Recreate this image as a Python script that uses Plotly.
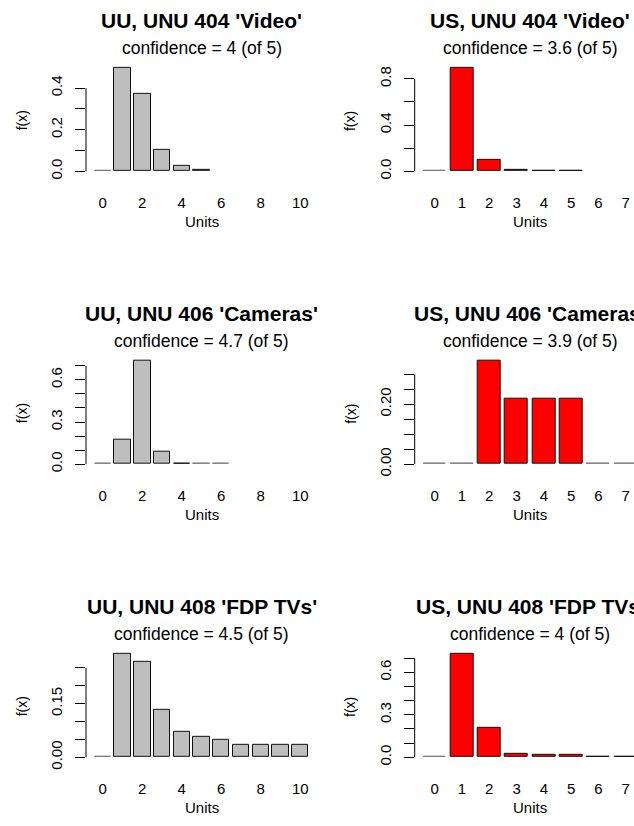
import plotly.graph_objects as go

# bar positions (units) for the two columns of panels
units_left = list(range(11))
units_right = list(range(8))

# f(x) values; None = no bar drawn
uu_video = [0.0, 0.497, 0.375, 0.105, 0.025, 0.006, None, None, None, None, None]
us_video = [0.0, 0.894, 0.102, 0.012, 0.004, 0.003, None, None]
uu_cameras = [0.0, 0.174, 0.736, 0.089, 0.006, 0.0, 0.0, None, None, None, None]
us_cameras = [0.0, 0.0, 0.345, 0.219, 0.219, 0.219, 0.0, 0.0]
uu_tvs = [0.0, 0.289, 0.266, 0.132, 0.070, 0.057, 0.048, 0.034, 0.034, 0.034, 0.034]
us_tvs = [0.0, 0.730, 0.207, 0.026, 0.016, 0.016, 0.004, 0.004]

titles = ["UU, UNU 404 'Video'", "US, UNU 404 'Video'",
          "UU, UNU 406 'Cameras'", "US, UNU 406 'Cameras'",
          "UU, UNU 408 'FDP TVs'", "US, UNU 408 'FDP TVs'"]
confidence = ["4", "3.6", "4.7", "3.9", "4.5", "4"]

# y tick marks (all) and labelled ticks per panel
y_ticks_all = [[0, 0.1, 0.2, 0.3, 0.4], [0, 0.2, 0.4, 0.6, 0.8],
               [0, 0.1, 0.2, 0.3, 0.4, 0.5, 0.6, 0.7], [0, 0.05, 0.1, 0.15, 0.2, 0.25, 0.3],
               [0, 0.05, 0.1, 0.15, 0.2, 0.25], [0, 0.1, 0.2, 0.3, 0.4, 0.5, 0.6, 0.7]]
y_ticks_lab = [[0, 0.2, 0.4], [0, 0.4, 0.8], [0, 0.3, 0.6], [0, 0.2], [0, 0.15], [0, 0.3, 0.6]]
y_fmt = [".1f", ".1f", ".1f", ".2f", ".2f", ".1f"]

FONT = "Liberation Sans, Arial, Helvetica, sans-serif"
W, H = 634, 826
ROW_ZERO = [173, 468.7, 764.7]   # pixel row of f(x)=0 in each row of panels
COL_AXIS = [86, 414.7]           # pixel column of the y axis
PLOT_W, PLOT_H = 231, 112.7      # R plot region size

panels = [
    (0, 0, units_left, uu_video, "#bebebe"),
    (0, 1, units_right, us_video, "#ff0000"),
    (1, 0, units_left, uu_cameras, "#bebebe"),
    (1, 1, units_right, us_cameras, "#ff0000"),
    (2, 0, units_left, uu_tvs, "#bebebe"),
    (2, 1, units_right, us_tvs, "#ff0000"),
]


def px_x(p):
    return p / W


def px_y(p):
    return 1 - p / H


fig = go.Figure()
annotations = []
shapes = []
layout = {}

for k, (row, col, units, vals, colour) in enumerate(panels):
    idx = k + 1
    sfx = "" if idx == 1 else str(idx)
    z = ROW_ZERO[row]
    ax_x = COL_AXIS[col]

    # zero bars still show as a flat outline, like R's barplot
    drawn = [None if v is None else max(v, 1e-9) for v in vals]
    edge = ["#777777" if v == 0 else "#111111" for v in vals]
    fig.add_trace(go.Bar(
        x=units, y=drawn, width=1 / 1.2,
        marker=dict(color=colour, line=dict(color=edge, width=1)),
        xaxis="x" + sfx, yaxis="y" + sfx, showlegend=False,
        hoverinfo="skip",
    ))

    # x range mimicking barplot(space=0.2) with 4% extension
    n = len(units)
    span = 1.2 * n - 0.2
    lo = (0.2 - 0.04 * span - 0.7) / 1.2
    hi = (1.2 * n + 0.04 * span - 0.7) / 1.2
    ppu = PLOT_W / (hi - lo)
    right_px = min(ax_x + PLOT_W, W)
    hi_vis = lo + (right_px - ax_x) / ppu

    ymax = max(v for v in vals if v is not None)
    bottom_px = z + 0.04 / 1.08 * PLOT_H
    top_px = z - 1.04 / 1.08 * PLOT_H

    layout["xaxis" + sfx] = dict(
        domain=[px_x(ax_x), px_x(right_px)], range=[lo, hi_vis],
        anchor="y" + sfx, tickmode="linear", tick0=0, dtick=2 if col == 0 else 1,
        ticks="", showline=False, showgrid=False, zeroline=False, tickangle=0,
        ticklabelstandoff=17, tickfont=dict(size=15, color="black", family=FONT),
    )
    layout["yaxis" + sfx] = dict(
        domain=[px_y(bottom_px), px_y(top_px)], range=[-0.04 * ymax, 1.04 * ymax],
        anchor="x" + sfx, tickmode="array", tickvals=y_ticks_lab[k], tickformat=y_fmt[k],
        ticks="outside", ticklen=10, tickwidth=1, tickcolor="black", tickangle=-90,
        minor=dict(tickmode="array", tickvals=y_ticks_all[k], ticks="outside",
                   ticklen=10, tickwidth=1, tickcolor="black"),
        showline=False, showgrid=False, zeroline=False, ticklabelstandoff=7,
        tickfont=dict(size=15, color="black", family=FONT),
    )

    shapes.append(dict(type="line", xref=f"x{sfx} domain", yref="y" + sfx,
                       x0=0, x1=0, y0=0, y1=y_ticks_all[k][-1],
                       line=dict(color="black", width=1)))

    cx = px_x(ax_x + PLOT_W / 2)
    annotations += [
        dict(text=f"<b>{titles[k]}</b>", x=cx, y=px_y(z - 152.3),
             font=dict(size=21, family=FONT, color="black")),
        dict(text=f"confidence = {confidence[k]} (of 5)", x=cx, y=px_y(z - 124.5),
             font=dict(size=17.5, family=FONT, color="black")),
        dict(text="Units", x=cx, y=px_y(z + 50.5),
             font=dict(size=15, family=FONT, color="black")),
        dict(text="f(x)", x=px_x(ax_x - 64.5), y=px_y(z - 51), textangle=-90,
             font=dict(size=14, family=FONT, color="black")),
    ]

for a in annotations:
    a.update(xref="paper", yref="paper", xanchor="center", yanchor="middle", showarrow=False)

fig.update_layout(
    width=W, height=H,
    margin=dict(l=0, r=0, t=0, b=0),
    paper_bgcolor="white", plot_bgcolor="white",
    font=dict(family=FONT, color="black"),
    annotations=annotations, shapes=shapes,
    bargap=0,
    **layout,
)

fig.write_html("out.html", config={"displayModeBar": False},
               post_script="document.body.style.margin='0';")
